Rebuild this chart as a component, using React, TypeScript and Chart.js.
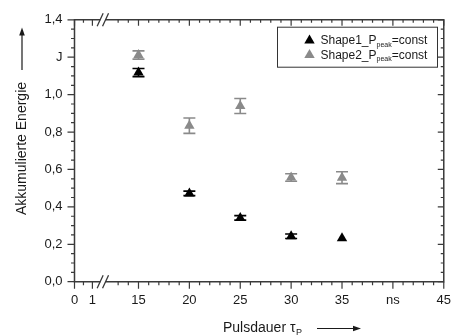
import React, { useEffect, useRef } from 'react';
import { Chart, registerables } from 'chart.js';

Chart.register(...registerables);

// ---------- data ----------
const pulseDurations = [15, 20, 25, 30, 35];
const shape1Energy = [1.118, 0.472, 0.341, 0.243, 0.232];
const shape1Error = [0.022, 0.012, 0.012, 0.012, 0];
const shape2Energy = [1.212, 0.834, 0.939, 0.557, 0.556];
const shape2Error = [0.022, 0.041, 0.04, 0.02, 0.032];

const seriesNames = ['Shape1_P', 'Shape2_P'];
const seriesSub = 'peak';
const seriesSuffix = '=const';

const yTicks = [0, 0.2, 0.4, 0.6, 0.8, 1.0, 1.2, 1.4];
const yTickLabels = ['0,0', '0,2', '0,4', '0,6', '0,8', '1,0', 'J', '1,4'];
const xTicksLeft = [0, 1];
const xTickLabelsLeft = ['0', '1'];
const xTicksRight = [15, 20, 25, 30, 35, 40, 45];
const xTickLabelsRight = ['15', '20', '25', '30', '35', 'ns', '45'];

const yTitle = 'Akkumulierte Energie';
const xTitle = 'Pulsdauer τ';
const xTitleSub = 'P';

const COLOR1 = '#000000';
const COLOR2 = '#8a8a8a';
const AXIS = '#3a3a3a';
const TEXT = '#1a1a1a';
const FONT = '"Liberation Sans", Arial, Helvetica, sans-serif';

function drawTri(ctx: CanvasRenderingContext2D, x: number, y: number, r: number, color: string) {
  ctx.fillStyle = color;
  ctx.beginPath();
  ctx.moveTo(x, y - r);
  ctx.lineTo(x + r * Math.sin((2 * Math.PI) / 3), y - r * Math.cos((2 * Math.PI) / 3));
  ctx.lineTo(x + r * Math.sin((4 * Math.PI) / 3), y - r * Math.cos((4 * Math.PI) / 3));
  ctx.closePath();
  ctx.fill();
}

const decorPlugin = {
  id: 'decor',
  beforeDatasetsDraw(chart: any) {
    const ctx: CanvasRenderingContext2D = chart.ctx;
    const xs = chart.scales.x2;
    const ys = chart.scales.y;
    const series = [
      { vals: shape1Energy, errs: shape1Error, color: COLOR1 },
      { vals: shape2Energy, errs: shape2Error, color: COLOR2 },
    ];
    ctx.save();
    ctx.lineWidth = 1.6;
    for (const s of series) {
      ctx.strokeStyle = s.color;
      for (let i = 0; i < pulseDurations.length; i++) {
        const e = s.errs[i];
        if (!e) continue;
        const x = xs.getPixelForValue(pulseDurations[i]);
        const y1 = ys.getPixelForValue(s.vals[i] + e);
        const y2 = ys.getPixelForValue(s.vals[i] - e);
        ctx.beginPath();
        ctx.moveTo(x, y1);
        ctx.lineTo(x, y2);
        ctx.moveTo(x - 6, y1);
        ctx.lineTo(x + 6, y1);
        ctx.moveTo(x - 6, y2);
        ctx.lineTo(x + 6, y2);
        ctx.stroke();
      }
    }
    ctx.restore();
  },
  afterDraw(chart: any) {
    const ctx: CanvasRenderingContext2D = chart.ctx;
    const ca = chart.chartArea;
    const ys = chart.scales.y;
    const x1 = chart.scales.x1;
    const x2 = chart.scales.x2;
    ctx.save();
    ctx.strokeStyle = AXIS;
    ctx.lineWidth = 1.5;
    // frame
    ctx.beginPath();
    ctx.rect(ca.left, ca.top, ca.right - ca.left, ca.bottom - ca.top);
    ctx.stroke();

    ctx.lineWidth = 1.2;
    ctx.beginPath();
    // y ticks
    for (let k = 0; k <= 28; k++) {
      const v = k * 0.05;
      const y = ys.getPixelForValue(v);
      const major = k % 4 === 0;
      ctx.moveTo(ca.left, y);
      ctx.lineTo(ca.left - (major ? 7 : 3.5), y);
      ctx.moveTo(ca.right, y);
      ctx.lineTo(ca.right - (major ? 6 : 3), y);
    }
    // x ticks
    const xTickAt = (px: number, major: boolean) => {
      ctx.moveTo(px, ca.bottom);
      ctx.lineTo(px, ca.bottom + (major ? 7 : 3.5));
      ctx.moveTo(px, ca.top);
      ctx.lineTo(px, ca.top + (major ? 6 : 3));
    };
    for (const v of [0, 0.5, 1]) {
      xTickAt(x1.getPixelForValue(v), xTicksLeft.includes(v));
    }
    for (let v = 13; v <= 45; v++) {
      xTickAt(x2.getPixelForValue(v), xTicksRight.includes(v));
    }
    ctx.stroke();

    // axis breaks
    const bx = x1.right + 1.5;
    for (const yb of [ca.bottom, ca.top]) {
      ctx.fillStyle = '#ffffff';
      ctx.fillRect(bx - 2.5, yb - 2, 5, 4);
      ctx.lineWidth = 1.3;
      ctx.beginPath();
      for (const cx of [bx - 2.7, bx + 2.7]) {
        ctx.moveTo(cx - 3, yb + 6.5);
        ctx.lineTo(cx + 3, yb - 6.5);
      }
      ctx.stroke();
    }

    // legend
    const lx = 277, ly = 26.7, lw = 160, lh = 40;
    ctx.fillStyle = '#ffffff';
    ctx.fillRect(lx, ly, lw, lh);
    ctx.strokeStyle = '#333333';
    ctx.lineWidth = 1;
    ctx.strokeRect(lx + 0.5, ly + 0.5, lw, lh);
    const rows = [
      { y: 39.5, color: COLOR1, name: seriesNames[0] },
      { y: 54, color: COLOR2, name: seriesNames[1] },
    ];
    for (const r of rows) {
      drawTri(ctx, 309.5, r.y + 1, 6, r.color);
      ctx.fillStyle = TEXT;
      ctx.textAlign = 'left';
      ctx.textBaseline = 'alphabetic';
      ctx.font = `12px ${FONT}`;
      let tx = 320.5;
      const base = r.y + 4.5;
      ctx.fillText(r.name, tx, base);
      tx += ctx.measureText(r.name).width;
      ctx.font = `7px ${FONT}`;
      ctx.fillText(seriesSub, tx, base + 2.5);
      tx += ctx.measureText(seriesSub).width;
      ctx.font = `12px ${FONT}`;
      ctx.fillText(seriesSuffix, tx, base);
    }

    // y title + arrow
    ctx.fillStyle = TEXT;
    ctx.save();
    ctx.translate(22, 148.5);
    ctx.rotate(-Math.PI / 2);
    ctx.font = `14px ${FONT}`;
    ctx.textAlign = 'center';
    ctx.textBaseline = 'middle';
    ctx.fillText(yTitle, 0, 0);
    ctx.restore();
    ctx.strokeStyle = TEXT;
    ctx.lineWidth = 1.2;
    ctx.beginPath();
    ctx.moveTo(22, 70);
    ctx.lineTo(22, 34);
    ctx.stroke();
    ctx.beginPath();
    ctx.moveTo(22, 27.5);
    ctx.lineTo(24.8, 35.5);
    ctx.lineTo(19.2, 35.5);
    ctx.closePath();
    ctx.fill();

    // x title + arrow
    ctx.font = `14px ${FONT}`;
    ctx.textAlign = 'left';
    ctx.textBaseline = 'alphabetic';
    const xt = 223;
    const xb = 332;
    ctx.fillText(xTitle, xt, xb);
    const w = ctx.measureText(xTitle).width;
    ctx.font = `9px ${FONT}`;
    ctx.fillText(xTitleSub, xt + w + 0.5, xb + 3);
    ctx.beginPath();
    ctx.moveTo(317, 328.5);
    ctx.lineTo(354, 328.5);
    ctx.stroke();
    ctx.beginPath();
    ctx.moveTo(361, 328.5);
    ctx.lineTo(353, 325.7);
    ctx.lineTo(353, 331.3);
    ctx.closePath();
    ctx.fill();

    ctx.restore();
  },
};

export default function App() {
  const ref = useRef<HTMLCanvasElement>(null);
  useEffect(() => {
    document.body.style.margin = '0';
    const canvas = ref.current;
    if (!canvas) return;
    const tickFont = { family: FONT, size: 13 };
    const chart = new Chart(canvas, {
      type: 'scatter',
      data: {
        datasets: [
          {
            label: 'Shape1_Ppeak=const',
            data: pulseDurations.map((x, i) => ({ x, y: shape1Energy[i] })),
            xAxisID: 'x2',
            yAxisID: 'y',
            pointStyle: 'triangle',
            pointRadius: 6,
            pointHoverRadius: 6,
            backgroundColor: COLOR1,
            borderColor: COLOR1,
            borderWidth: 0,
            showLine: false,
          },
          {
            label: 'Shape2_Ppeak=const',
            data: pulseDurations.map((x, i) => ({ x, y: shape2Energy[i] })),
            xAxisID: 'x2',
            yAxisID: 'y',
            pointStyle: 'triangle',
            pointRadius: 6,
            pointHoverRadius: 6,
            backgroundColor: COLOR2,
            borderColor: COLOR2,
            borderWidth: 0,
            showLine: false,
          },
        ],
      },
      options: {
        animation: false,
        responsive: true,
        maintainAspectRatio: false,
        events: [],
        layout: { padding: { left: 0, top: 18.5, right: 9.3, bottom: 0 } },
        plugins: { legend: { display: false }, tooltip: { enabled: false } },
        scales: {
          x1: {
            type: 'linear',
            position: 'bottom',
            stack: 'x',
            stackWeight: 27.5,
            min: 0,
            max: 1.5,
            grid: { display: false, drawTicks: false },
            border: { display: false },
            afterBuildTicks: (s: any) => {
              s.ticks = xTicksLeft.map((v) => ({ value: v }));
            },
            afterFit: (s: any) => {
              s.height = 54.3;
            },
            ticks: {
              autoSkip: false,
              maxRotation: 0,
              padding: 11,
              color: TEXT,
              font: tickFont,
              callback: (_v: any, i: number) => xTickLabelsLeft[i],
            },
          },
          x2: {
            type: 'linear',
            position: 'bottom',
            stack: 'x',
            stackWeight: 350.7,
            min: 11.35,
            max: 45,
            grid: { display: false, drawTicks: false },
            border: { display: false },
            afterBuildTicks: (s: any) => {
              s.ticks = xTicksRight.map((v) => ({ value: v }));
            },
            afterFit: (s: any) => {
              s.height = 54.3;
            },
            ticks: {
              autoSkip: false,
              maxRotation: 0,
              padding: 11,
              color: TEXT,
              font: tickFont,
              callback: (_v: any, i: number) => xTickLabelsRight[i],
            },
          },
          y: {
            type: 'linear',
            position: 'left',
            min: 0,
            max: 1.4,
            grid: { display: false, drawTicks: false },
            border: { display: false },
            afterBuildTicks: (s: any) => {
              s.ticks = yTicks.map((v) => ({ value: v }));
            },
            afterFit: (s: any) => {
              s.width = 74.5;
            },
            ticks: {
              autoSkip: false,
              padding: 12,
              color: TEXT,
              font: tickFont,
              callback: (_v: any, i: number) => yTickLabels[i],
            },
          },
        },
      },
      plugins: [decorPlugin],
    });
    return () => chart.destroy();
  }, []);
  return (
    <div style={{ position: 'relative', width: '462px', height: '336px' }}>
      <canvas ref={ref} />
    </div>
  );
}
